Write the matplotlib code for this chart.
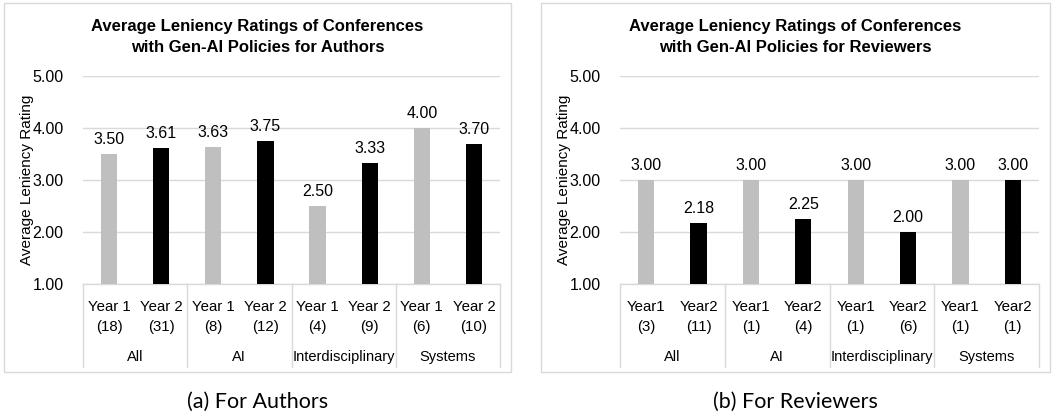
import matplotlib
matplotlib.use("Agg")
import matplotlib.pyplot as plt
from matplotlib.patches import Rectangle
from matplotlib.lines import Line2D

groups = ["All", "AI", "Interdisciplinary", "Systems"]
author_labels = ["Year 1\n(18)", "Year 2\n(31)", "Year 1\n(8)", "Year 2\n(12)",
                 "Year 1\n(4)", "Year 2\n(9)", "Year 1\n(6)", "Year 2\n(10)"]
author_values = [3.50, 3.61, 3.63, 3.75, 2.50, 3.33, 4.00, 3.70]
reviewer_labels = ["Year1\n(3)", "Year2\n(11)", "Year1\n(1)", "Year2\n(4)",
                   "Year1\n(1)", "Year2\n(6)", "Year1\n(1)", "Year2\n(1)"]
reviewer_values = [3.00, 2.18, 3.00, 2.25, 3.00, 2.00, 3.00, 3.00]
yticks = [1.0, 2.0, 3.0, 4.0, 5.0]
titles = ["Average Leniency Ratings of Conferences\nwith Gen-AI Policies for Authors",
          "Average Leniency Ratings of Conferences\nwith Gen-AI Policies for Reviewers"]
captions = ["(a) For Authors", "(b) For Reviewers"]

W, H = 1055, 418
fig = plt.figure(figsize=(W / 100, H / 100), dpi=100)
FONT = "Liberation Sans"
GRID = "#d9d9d9"
colors = ["#bfbfbf", "#000000"] * 4


def fx(x):
    return x / W


def fy(y):
    return 1 - y / H


def panel(box, plot, labels, values, title, caption):
    bx0, by0, bx1, by1 = box
    fig.patches.append(Rectangle((fx(bx0), fy(by1)), fx(bx1 - bx0), (by1 - by0) / H,
                                 transform=fig.transFigure, fill=False,
                                 edgecolor="#d9d9d9", linewidth=1.0))
    px0, py0, px1, py1 = plot
    ax = fig.add_axes([fx(px0), fy(py1), fx(px1 - px0), (py1 - py0) / H])
    n = len(values)
    xs = list(range(n))
    ax.bar(xs, values, width=0.31, bottom=0, color=colors, zorder=3)
    ax.set_xlim(-0.5, n - 0.5)
    ax.set_ylim(1, 5)
    ax.set_yticks(yticks)
    ax.set_yticklabels([f"{v:.2f}" for v in yticks], fontsize=11.5, family=FONT)
    ax.tick_params(axis="y", length=0, pad=14)
    ax.tick_params(axis="x", length=0)
    ax.set_xticks([])
    for s in ax.spines.values():
        s.set_visible(False)
    ax.grid(axis="y", color=GRID, linewidth=1.0, zorder=0)
    ax.set_axisbelow(True)
    ax.set_ylabel("Average Leniency Rating", fontsize=11, family=FONT)
    ax.yaxis.set_label_coords(-49 / (px1 - px0), 0.5)
    for x, v in zip(xs, values):
        ax.annotate(f"{v:.2f}", (x, v), xytext=(0, 5), textcoords="offset points",
                    ha="center", va="bottom", fontsize=11.5, family=FONT)
    # category table below axis
    trans = ax.get_xaxis_transform()
    depth = (367 - py1) / (py1 - py0)
    for i in range(len(groups) + 1):
        xb = -0.5 + 2 * i
        ax.add_line(Line2D([xb, xb], [0, -depth], transform=trans, color=GRID,
                           linewidth=1.0, clip_on=False))
    ax.add_line(Line2D([-0.5, n - 0.5], [0, 0], transform=trans, color=GRID,
                       linewidth=1.0, clip_on=False, zorder=1))
    lab_y = -(317 - py1) / (py1 - py0)
    grp_y = -(357 - py1) / (py1 - py0)
    for x, lab in zip(xs, labels):
        ax.text(x, lab_y, lab, transform=trans, ha="center", va="center",
                fontsize=10.8, family=FONT, linespacing=1.5)
    for i, g in enumerate(groups):
        ax.text(2 * i + 0.5, grp_y, g, transform=trans, ha="center", va="center",
                fontsize=10.5, family=FONT)
    fig.text(fx((bx0 + bx1) / 2), fy(37), title,
             ha="center", va="center", fontsize=12, fontweight="bold", family=FONT,
             linespacing=1.45)
    fig.text(fx((bx0 + bx1) / 2), fy(402), caption, ha="center", va="center",
             fontsize=15.5, family="Lato")


panel((4, 3, 511, 372), (83, 76, 500, 284), author_labels, author_values,
      titles[0], captions[0])
panel((541, 3, 1050, 372), (620, 76, 1039, 284), reviewer_labels, reviewer_values,
      titles[1], captions[1])

fig.savefig("out.png", dpi=100)
